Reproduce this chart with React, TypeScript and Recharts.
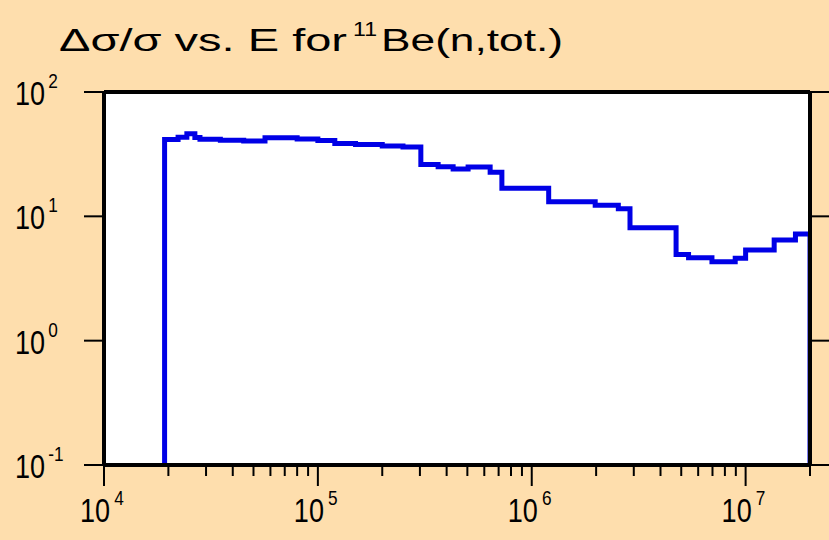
import { LineChart, Line, XAxis, YAxis, CartesianGrid } from "recharts";

// bin edges (eV) and relative uncertainty (%) per bin
const edges = [
  1.92e4, 2.22e4, 2.44e4, 2.66e4, 2.81e4, 3.5e4, 4.5e4, 5.66e4, 8e4, 1e5,
  1.2e5, 1.5e5, 2e5, 2.5e5, 3.03e5, 3.65e5, 4.29e5, 5.04e5, 6.39e5, 7.25e5,
  1.2e6, 1.98e6, 2.54e6, 2.88e6, 4.73e6, 5.41e6, 6.96e6, 8.94e6, 1e7, 1.36e7,
  1.71e7, 2e7,
];
const values = [
  41.5, 43.3, 46.2, 43.1, 41.6, 41.0, 40.4, 42.9, 41.9, 40.7, 38.6, 37.8,
  36.8, 36.1, 26.1, 25.1, 24.0, 24.9, 22.6, 16.8, 13.1, 12.3, 11.5, 8.1,
  4.94, 4.65, 4.32, 4.6, 5.36, 6.46, 7.21,
];
const floorValue = 0.1;

const xMajor = [1e4, 1e5, 1e6, 1e7];
const xMinor = [
  2e4, 3e4, 4e4, 5e4, 6e4, 7e4, 8e4, 9e4,
  2e5, 3e5, 4e5, 5e5, 6e5, 7e5, 8e5, 9e5,
  2e6, 3e6, 4e6, 5e6, 6e6, 7e6, 8e6, 9e6,
  2e7,
];
const yMajor = [0.1, 1, 10, 100];

const data = [
  { e: edges[0], v: floorValue },
  ...values.map((v, i) => ({ e: edges[i], v })),
  { e: edges[edges.length - 1], v: values[values.length - 1] },
  { e: edges[edges.length - 1], v: floorValue },
];

const W = 829;
const H = 540;
const LEFT = 104;
const RIGHT = 810;
const TOP = 92;
const BOTTOM = 465;
const FONT = "'Liberation Sans', Arial, sans-serif";
const SQUEEZE = 0.82;

const isMajor = (v: number) => xMajor.some((m) => Math.abs(m - v) < 1e-6 * v);
const expOf = (v: number) => Math.round(Math.log10(v)).toString();

function PowerLabel({ x, y, exp, supDx }: { x: number; y: number; exp: string; supDx: number }) {
  return (
    <text
      transform={`translate(${x},${y}) scale(${SQUEEZE},1)`}
      fontFamily={FONT}
      fill="#000"
      fontSize={33}
    >
      <tspan>10</tspan>
      <tspan dx={supDx} dy={-17} fontSize={21}>{exp}</tspan>
    </text>
  );
}

function BottomTick(props: any) {
  const { x, payload } = props;
  const major = isMajor(payload.value);
  return (
    <g>
      <line x1={x} x2={x} y1={BOTTOM} y2={BOTTOM + (major ? 21 : 11)} stroke="#000" strokeWidth={2} />
      {major && <PowerLabel x={x - 24} y={522} exp={expOf(payload.value)} supDx={5} />}
    </g>
  );
}

function TopTick(props: any) {
  const { x, payload } = props;
  const major = isMajor(payload.value);
  return <line x1={x} x2={x} y1={TOP} y2={TOP - (major ? 22 : 11)} stroke="#000" strokeWidth={2} />;
}

function LeftTick(props: any) {
  const { y, payload } = props;
  return (
    <g>
      <line x1={LEFT} x2={84} y1={y} y2={y} stroke="#000" strokeWidth={2} />
      <PowerLabel x={15} y={y + 13} exp={expOf(payload.value)} supDx={4} />
    </g>
  );
}

function RightTick(props: any) {
  const { y } = props;
  return <line x1={RIGHT} x2={W} y1={y} y2={y} stroke="#000" strokeWidth={2} />;
}

export default function App() {
  return (
    <div style={{ position: "absolute", left: 0, top: 0, width: W, height: H, background: "#fedead" }}>
      <LineChart width={W} height={H} data={data} margin={{ top: 0, right: 0, bottom: 0, left: 0 }}>
        <CartesianGrid fill="#fff" stroke="none" horizontal={false} vertical={false} />
        <XAxis
          dataKey="e"
          type="number"
          scale="log"
          domain={[1e4, 2e7]}
          allowDataOverflow
          ticks={[...xMajor, ...xMinor]}
          interval={0}
          height={H - BOTTOM}
          tickLine={false}
          axisLine={{ stroke: "#000", strokeWidth: 4 }}
          tick={(p: any) => <BottomTick {...p} />}
        />
        <XAxis
          xAxisId="top"
          orientation="top"
          type="number"
          scale="log"
          domain={[1e4, 2e7]}
          allowDataOverflow
          ticks={[...xMajor, ...xMinor]}
          interval={0}
          height={TOP}
          tickLine={false}
          axisLine={{ stroke: "#000", strokeWidth: 4 }}
          tick={(p: any) => <TopTick {...p} />}
        />
        <YAxis
          type="number"
          scale="log"
          domain={[0.1, 100]}
          allowDataOverflow
          ticks={yMajor}
          interval={0}
          width={LEFT}
          tickLine={false}
          axisLine={{ stroke: "#000", strokeWidth: 4 }}
          tick={(p: any) => <LeftTick {...p} />}
        />
        <YAxis
          yAxisId="right"
          orientation="right"
          type="number"
          scale="log"
          domain={[0.1, 100]}
          allowDataOverflow
          ticks={yMajor}
          interval={0}
          width={W - RIGHT}
          tickLine={false}
          axisLine={{ stroke: "#000", strokeWidth: 4 }}
          tick={(p: any) => <RightTick {...p} />}
        />
        <Line
          dataKey="v"
          type="stepAfter"
          stroke="#0000e6"
          strokeWidth={5}
          dot={false}
          activeDot={false}
          isAnimationActive={false}
        />
      </LineChart>
      <svg width={W} height={H} style={{ position: "absolute", left: 0, top: 0, pointerEvents: "none" }}>
        <g fontFamily={FONT} fill="#000">
          <text x={59} y={51} fontSize={31} textLength={288} lengthAdjust="spacingAndGlyphs">Δσ/σ vs. E for</text>
          <text x={353} y={36} fontSize={21} textLength={24} lengthAdjust="spacingAndGlyphs">11</text>
          <text x={381} y={51} fontSize={31} textLength={182} lengthAdjust="spacingAndGlyphs">Be(n,tot.)</text>
        </g>
      </svg>
    </div>
  );
}
